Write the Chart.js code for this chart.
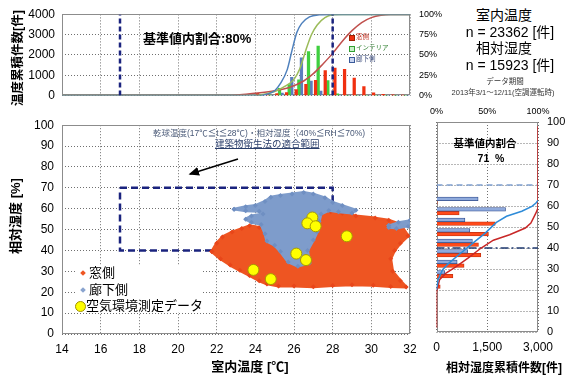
<!DOCTYPE html>
<html>
<head>
<meta charset="utf-8">
<script src="https://cdn.jsdelivr.net/npm/chart.js@4.4.1/dist/chart.umd.min.js"></script>
<style>
  body { margin: 0; background: #fff; }
  #wrap { position: relative; width: 565px; height: 377px; overflow: hidden; background: #fff;
          font-family: 'Liberation Sans', 'Noto Sans CJK JP', sans-serif; color: #000; }
  canvas { position: absolute; }
  .t { position: absolute; white-space: pre; line-height: 1; }
  .c { transform: translateX(-50%); }
  .vt { position: absolute; white-space: nowrap; line-height: 1; font-weight: bold;
        transform: translate(-50%, -50%) rotate(-90deg); }
  .sq { position: absolute; width: 4px; height: 4px; }
</style>
</head>
<body>
<div id="wrap">
  <canvas id="topChart" width="445" height="110" style="left:0;top:0"></canvas>
  <canvas id="scatterChart" width="430" height="267" style="left:0;top:110px"></canvas>
  <canvas id="rhChart" width="140" height="282" style="left:425px;top:95px"></canvas>

  <!-- axis titles -->
  <div class="vt" style="left:18px;top:58px;font-size:12.5px">温度累積件数[件]</div>
  <div class="vt" style="left:15px;top:216px;font-size:13px">相対湿度 [%]</div>
  <div class="t c" style="left:250px;top:360px;font-size:13px;font-weight:bold">室内温度 [℃]</div>
  <div class="t c" style="left:504px;top:362px;font-size:12px;font-weight:bold">相対湿度累積件数[件]</div>

  <!-- top chart notes -->
  <div class="t" style="left:143px;top:32px;font-size:13px;font-weight:bold">基準値内割合:80%</div>
  <div class="sq" style="left:349px;top:35px;background:#f03010;border:1px solid #a02000"></div>
  <div class="t" style="left:356px;top:34px;font-size:6.5px;color:#c03020">窓側</div>
  <div class="sq" style="left:349px;top:46px;background:#c8f0c8;border:1px solid #30a030"></div>
  <div class="t" style="left:356px;top:45px;font-size:6.5px;color:#308030">インテリア</div>
  <div class="sq" style="left:349px;top:57px;background:#c8d4f0;border:1px solid #3a5a9a"></div>
  <div class="t" style="left:356px;top:56px;font-size:6.5px;color:#3a4a7a">廊下側</div>

  <!-- counts block -->
  <div class="t c" style="left:504px;top:8px;font-size:14px">室内温度</div>
  <div class="t c" style="left:510px;top:25px;font-size:14px">n = 23362 [件]</div>
  <div class="t c" style="left:504px;top:41px;font-size:14px">相対湿度</div>
  <div class="t c" style="left:510px;top:58px;font-size:14px">n = 15923 [件]</div>
  <div class="t c" style="left:505px;top:78px;font-size:7.5px;color:#333">データ期間</div>
  <div class="t c" style="left:503px;top:89px;font-size:7.5px;color:#333">2013年3/1～12/11(空調運転時)</div>

  <!-- scatter notes -->
  <div class="t" style="left:153px;top:129px;font-size:8.5px;color:#4a5a78">乾球温度(17℃≦t≦28℃)・相対湿度（40%≦RH≦70%)</div>
  <div class="t" style="left:215px;top:139px;font-size:9.5px;color:#2b3f6b;text-decoration:underline;background:#fff">建築物衛生法の適合範囲</div>
  <svg width="565" height="377" style="position:absolute;left:0;top:0">
    <defs>
      <marker id="ah" markerWidth="8" markerHeight="8" refX="6" refY="4" orient="auto">
        <path d="M0,1 L7,4 L0,7 Z" fill="#000"></path>
      </marker>
    </defs>
    <line x1="238" y1="159" x2="190" y2="174" stroke="#000" stroke-width="1.5" marker-end="url(#ah)"></line>
  </svg>

  <!-- scatter legend -->
  <div style="position:absolute;left:77px;top:265px;width:126px;height:47px;background:#fff"></div>
  <div style="position:absolute;left:81px;top:271px;width:4px;height:4px;background:#ee5522;transform:rotate(45deg)"></div>
  <div class="t" style="left:89px;top:266px;font-size:13px">窓側</div>
  <div style="position:absolute;left:81px;top:288px;width:4px;height:4px;background:#8aa4cf;transform:rotate(45deg)"></div>
  <div class="t" style="left:89px;top:283px;font-size:13px">廊下側</div>
  <div style="position:absolute;left:75px;top:301px;width:9px;height:9px;border-radius:50%;background:#ffff00;border:1px solid #a09000"></div>
  <div class="t" style="left:86px;top:299px;font-size:13px">空気環境測定データ</div>

  <!-- right chart notes -->
  <div class="t c" style="left:485px;top:138px;font-size:10.5px;font-weight:bold">基準値内割合</div>
  <div class="t c" style="left:491px;top:153px;font-size:10.5px;font-weight:bold">71  %</div>
</div>

<script>
// temperature histogram, 0.5 degC bins
const tempBins     = [24.25, 24.75, 25.25, 25.75, 26.25, 26.75, 27.25, 27.75, 28.25, 28.75, 29.25, 29.75, 30.25, 30.75, 31.25, 31.75];
const tempWindow   = [110, 60, 100, 150, 300, 550, 750, 1230, 1350, 1290, 860, 440, 140, 60, 35, 25];
const tempInterior = [0, 10, 360, 540, 780, 2170, 2440, 740, 90, 0, 0, 0, 0, 0, 0, 0];
const tempCorridor = [0, 0, 130, 900, 1860, 720, 220, 30, 0, 0, 0, 0, 0, 0, 0, 0];

// cumulative share [%] of each series
const cumWindowT     = [14, 22.5, 23.2, 24, 25, 25.75, 26.5, 27, 27.5, 28, 28.5, 29, 29.5, 30, 30.5, 31, 32];
const cumWindowPct   = [0, 0, 1, 3, 6, 10, 18, 27, 39, 52, 67, 80, 90, 96, 99, 100, 100];
const cumInteriorT   = [14, 24, 24.5, 25, 25.5, 26, 26.3, 26.6, 26.9, 27.2, 27.6, 28, 28.5, 32];
const cumInteriorPct = [0, 0, 2, 5, 11, 20, 33, 55, 75, 87, 96, 99.5, 100, 100];
const cumCorridorT   = [14, 24.3, 24.5, 25, 25.3, 25.65, 25.9, 26.15, 26.4, 26.8, 27.3, 28, 32];
const cumCorridorPct = [0, 0, 1, 6, 15, 32, 56, 78, 89, 97, 99.5, 100, 100];

// standard range
const stdTemp = [17, 28];
const stdRh   = [40, 70];

// scatter clouds, outline of the measured points
const windowCloudT  = [21.75, 22.0, 22.3, 22.8, 23.3, 23.7, 24.2, 24.7, 25.5, 26.3, 26.9, 27.4, 27.9, 28.5, 29.2, 30.2, 30.9, 31.5, 31.9, 31.5, 31.2, 31.0, 31.1, 31.5, 31.8, 31.0, 30.1, 29.0, 28.0, 27.0, 26.0, 25.2, 24.6, 24.2, 23.7, 23.2, 22.7, 22.2];
const windowCloudRh = [39.5, 43.5, 46.5, 48.8, 50.5, 51.8, 51.0, 49.0, 47.0, 50.0, 55.0, 57.5, 58.5, 57.8, 56.5, 55.5, 54.5, 52.5, 47.0, 43.5, 40.0, 36.0, 30.0, 25.5, 22.5, 22.8, 23.4, 23.6, 23.2, 22.6, 23.0, 23.0, 24.0, 25.5, 28.0, 30.5, 33.0, 36.0];
const corridorCloudT  = [22.9, 23.5, 24.0, 24.5, 24.8, 25.3, 25.9, 26.5, 27.0, 27.6, 28.0, 28.5, 29.2, 29.0, 28.3, 27.8, 27.4, 27.3, 27.2, 27.0, 26.7, 26.8, 26.2, 25.7, 25.3, 25.0, 24.6, 24.5, 24.3, 23.8, 23.5, 23.8, 24.4, 24.2, 23.5];
const corridorCloudRh = [59.8, 61.0, 61.5, 63.5, 65.5, 66.3, 67.0, 67.8, 67.0, 65.2, 63.0, 61.5, 59.3, 58.0, 58.5, 59.2, 57.5, 54.0, 49.0, 45.0, 40.0, 34.0, 32.5, 34.5, 39.5, 42.5, 44.5, 48.0, 52.5, 53.5, 55.0, 56.5, 57.5, 58.8, 59.0];
const corridorPatchT  = [30.9, 31.4, 32.0, 31.9, 31.3, 30.9];
const corridorPatchRh = [52.0, 53.5, 54.5, 51.5, 50.5, 51.0];

// air quality survey points
const surveyT  = [26.95, 26.69, 27.12, 28.73, 26.12, 26.62, 23.9, 24.8];
const surveyRh = [55.8, 53.0, 51.6, 46.8, 38.5, 35.4, 30.7, 26.3];

// humidity histogram, 5 % bins
const rhBins     = [67.5, 62.5, 57.5, 52.5, 47.5, 42.5, 37.5, 32.5, 27.5, 22.5];
const rhCorridor = [30, 1230, 2040, 840, 985, 1060, 920, 610, 245, 20];
const rhWindow   = [0, 20, 670, 1735, 1535, 1240, 1310, 815, 485, 110];

const rhCumCorridorPct = [0, 1.6, 6, 12.5, 22, 34, 48, 59, 69, 84, 94, 98, 100];
const rhCumCorridorRh  = [20.2, 24.9, 29.7, 32.9, 36.8, 41.6, 47.1, 52.2, 55.1, 57.5, 59.8, 61.4, 62.7];
const rhCumWindowPct   = [0, 0, 1, 3, 9.4, 19, 31, 44, 56, 72, 87.5, 93, 98, 100, 100];
const rhCumWindowRh    = [2, 19, 21, 24.9, 28.1, 31, 35.2, 40, 43.7, 46.3, 49.5, 51.9, 56.7, 59, 98];

function pairs(xs, ys) {
  return xs.map(function (x, i) { return {x: x, y: ys[i]}; });
}

function closed(xs, ys) {
  var p = pairs(xs, ys);
  p.push(p[0]);
  return p;
}

// solid frame around the plot area
const framePlugin = {
  id: 'frame',
  beforeDatasetsDraw(chart) {
    var a = chart.chartArea;
    var c = chart.ctx;
    c.save();
    c.strokeStyle = '#8c8c8c';
    c.lineWidth = 1;
    c.strokeRect(Math.round(a.left) + 0.5, Math.round(a.top) + 0.5, Math.round(a.width) - 1, Math.round(a.height) - 1);
    c.restore();
  }
};

Chart.defaults.font.family = "'Liberation Sans', 'Noto Sans CJK JP', sans-serif";
Chart.defaults.color = '#000';
Chart.defaults.animation = false;
Chart.defaults.responsive = false;
Chart.defaults.plugins.legend.display = false;
Chart.defaults.plugins.tooltip.enabled = false;

const dotGrid = {color: '#6f6f6f', drawTicks: false, offset: false};
const dotBorder = {display: false, dash: [1, 2]};
const noGrid = {display: false, drawTicks: false};

// ---- top: temperature counts ----
new Chart(document.getElementById('topChart'), {
  type: 'scatter',
  data: {
    datasets: stdTemp.map(function (t) {
      return {type: 'line', data: [{x: t, y: 0}, {x: t, y: 4000}], yAxisID: 'y',
              borderColor: '#1a237e', borderWidth: 2.5, borderDash: [5, 3], pointRadius: 0};
    }).concat([
      {type: 'line', data: pairs(cumCorridorT, cumCorridorPct), yAxisID: 'y2', borderColor: '#4f81bd',
       borderWidth: 1.5, pointRadius: 0, cubicInterpolationMode: 'monotone'},
      {type: 'line', data: pairs(cumInteriorT, cumInteriorPct), yAxisID: 'y2', borderColor: '#9bbb59',
       borderWidth: 1.5, pointRadius: 0, cubicInterpolationMode: 'monotone'},
      {type: 'line', data: pairs(cumWindowT, cumWindowPct), yAxisID: 'y2', borderColor: '#c0504d',
       borderWidth: 1.5, pointRadius: 0, cubicInterpolationMode: 'monotone'},
      {type: 'bar', label: '窓側', data: pairs(tempBins, tempWindow), yAxisID: 'y',
       backgroundColor: '#f03010', barThickness: 2.6},
      {type: 'bar', label: 'インテリア', data: pairs(tempBins, tempInterior), yAxisID: 'y',
       backgroundColor: '#3fcf3f', barThickness: 2.6},
      {type: 'bar', label: '廊下側', data: pairs(tempBins, tempCorridor), yAxisID: 'y',
       backgroundColor: '#5b7dbf', barThickness: 2.6}
    ])
  },
  options: {
    devicePixelRatio: 1,
    layout: {padding: {top: 14, left: 0, right: 0, bottom: 0}},
    scales: {
      x: {type: 'linear', min: 14, max: 32, offset: false,
          ticks: {display: false, stepSize: 2}, grid: dotGrid, border: dotBorder,
          afterFit: function (s) { s.height = 14; }},
      y: {type: 'linear', min: 0, max: 4000,
          ticks: {stepSize: 1000, padding: 7, font: {size: 12}, callback: function (v) { return String(v); }},
          grid: dotGrid, border: dotBorder,
          afterFit: function (s) { s.width = 62; }},
      y2: {type: 'linear', position: 'right', min: 0, max: 100,
           ticks: {stepSize: 25, padding: 9, font: {size: 9}, callback: function (v) { return v + '%'; }},
           grid: noGrid, border: {display: false},
           afterFit: function (s) { s.width = 35; }}
    }
  },
  plugins: [framePlugin]
});

// ---- scatter: temperature vs humidity ----
var rectPts = [
  {x: stdTemp[0], y: stdRh[1]}, {x: stdTemp[1], y: stdRh[1]},
  {x: stdTemp[1], y: stdRh[0]}, {x: stdTemp[0], y: stdRh[0]}, {x: stdTemp[0], y: stdRh[1]}
];

new Chart(document.getElementById('scatterChart'), {
  type: 'scatter',
  data: {
    datasets: [
      {label: '空気環境測定データ', data: pairs(surveyT, surveyRh), pointRadius: 5.5,
       backgroundColor: '#ffff00', borderColor: '#a89a00', borderWidth: 1},
      {type: 'line', label: '廊下側', data: closed(corridorPatchT, corridorPatchRh), fill: 'shape',
       backgroundColor: '#7e9ccb', borderColor: '#7e9ccb', borderWidth: 2, pointRadius: 2.5,
       pointStyle: 'rectRot', pointBackgroundColor: '#6f8fc2', pointBorderWidth: 0},
      {type: 'line', label: '廊下側', data: closed(corridorCloudT, corridorCloudRh), fill: 'shape',
       backgroundColor: '#7e9ccb', borderColor: '#7e9ccb', borderWidth: 3, borderJoinStyle: 'round',
       pointRadius: 2.5, pointStyle: 'rectRot', pointBackgroundColor: '#6f8fc2', pointBorderWidth: 0},
      {type: 'line', label: '窓側', data: closed(windowCloudT, windowCloudRh), fill: 'shape',
       backgroundColor: '#ee5522', borderColor: '#ee5522', borderWidth: 3, borderJoinStyle: 'round',
       pointRadius: 2.5, pointStyle: 'rectRot', pointBackgroundColor: '#e8461a', pointBorderWidth: 0},
      {type: 'line', data: rectPts, fill: false, borderColor: '#1a237e', borderWidth: 2.5,
       borderDash: [7, 4], pointRadius: 0}
    ]
  },
  options: {
    devicePixelRatio: 1,
    layout: {padding: {top: 13, right: 20, left: 0, bottom: 0}},
    scales: {
      x: {type: 'linear', min: 14, max: 32, ticks: {stepSize: 2, padding: 8, font: {size: 12}},
          grid: dotGrid, border: dotBorder,
          afterFit: function (s) { s.height = 43; }},
      y: {type: 'linear', min: 0, max: 100, ticks: {stepSize: 10, padding: 8, font: {size: 12}},
          grid: dotGrid, border: dotBorder,
          afterFit: function (s) { s.width = 62; }}
    }
  },
  plugins: [framePlugin]
});

// ---- right: humidity counts ----
new Chart(document.getElementById('rhChart'), {
  type: 'scatter',
  data: {
    datasets: [
      {type: 'line', data: pairs(rhCumCorridorPct, rhCumCorridorRh), xAxisID: 'x2', yAxisID: 'y',
       borderColor: '#2e8bd8', borderWidth: 1.5, pointRadius: 0},
      {type: 'line', data: pairs(rhCumWindowPct, rhCumWindowRh), xAxisID: 'x2', yAxisID: 'y',
       borderColor: '#c82828', borderWidth: 1.5, pointRadius: 0},
      {type: 'line', data: [{x: 0, y: stdRh[1]}, {x: 3000, y: stdRh[1]}], xAxisID: 'x', yAxisID: 'y',
       borderColor: '#7fa0d0', borderWidth: 1.5, borderDash: [6, 4], pointRadius: 0},
      {type: 'line', data: [{x: 0, y: stdRh[0]}, {x: 3000, y: stdRh[0]}], xAxisID: 'x', yAxisID: 'y',
       borderColor: '#1f3a70', borderWidth: 1.5, borderDash: [8, 3, 2, 3], pointRadius: 0},
      {type: 'bar', label: '廊下側', indexAxis: 'y', data: pairs(rhCorridor, rhBins), xAxisID: 'x', yAxisID: 'y',
       backgroundColor: '#8faadc', borderColor: '#2f4a8a', borderWidth: 0.8, barThickness: 3.6},
      {type: 'bar', label: '窓側', indexAxis: 'y', data: pairs(rhWindow, rhBins), xAxisID: 'x', yAxisID: 'y',
       backgroundColor: '#ff4a1a', borderColor: '#c03010', borderWidth: 0.8, barThickness: 3.6}
    ]
  },
  options: {
    devicePixelRatio: 1,
    layout: {padding: {top: 0, right: 0, left: 7, bottom: 0}},
    scales: {
      x: {type: 'linear', position: 'bottom', min: 0, max: 3000, offset: false,
          ticks: {stepSize: 1500, padding: 8, font: {size: 12},
                  callback: function (v) { return v.toLocaleString('en-US'); }},
          grid: dotGrid, border: dotBorder,
          afterFit: function (s) { s.height = 45; }},
      x2: {type: 'linear', position: 'top', min: 0, max: 100,
           ticks: {stepSize: 50, padding: 5, font: {size: 9}, callback: function (v) { return v + '%'; }},
           grid: noGrid, border: {display: false},
           afterFit: function (s) { s.height = 27; }},
      y: {type: 'linear', position: 'right', min: 0, max: 100, offset: false,
          ticks: {stepSize: 10, padding: 9, font: {size: 11}},
          grid: dotGrid, border: dotBorder,
          afterFit: function (s) { s.width = 27; }}
    }
  },
  plugins: [framePlugin]
});
</script>
</body>
</html>
